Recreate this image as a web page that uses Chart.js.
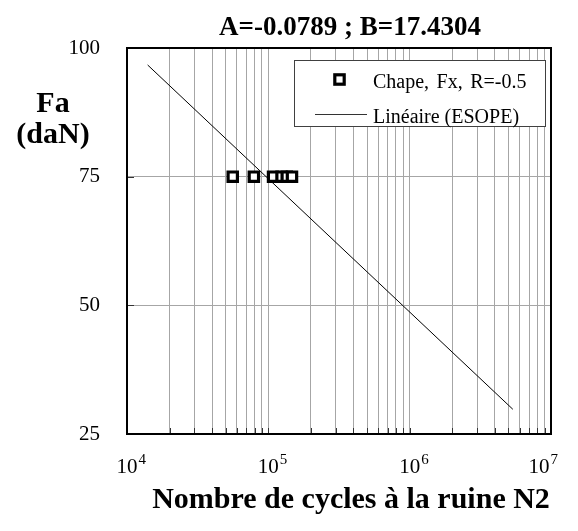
<!DOCTYPE html>
<html>
<head>
<meta charset="utf-8">
<script src="https://cdn.jsdelivr.net/npm/chart.js@4.4.1/dist/chart.umd.min.js"></script>
<style>
  html, body { margin: 0; padding: 0; background: #fff; }
  #wrap { width: 578px; height: 531px; }
</style>
</head>
<body>
<div id="wrap"><canvas id="graficoFatigue" width="578" height="531"></canvas></div>
<script>
// valeurs
const cycles = [56000, 79000, 108000, 124000, 135000, 147000];
const efforts = [75, 75, 75, 75, 75, 75];
const droiteCycles = [14000, 5370000];
const droiteEfforts = [96.7, 29.8];
const decades = [1e4, 1e5, 1e6, 1e7];
const yTicks = [25, 50, 75, 100];
const titre = 'A=-0.0789 ; B=17.4304';
const titreY = ['Fa', '(daN)'];
const titreX = 'Nombre de cycles à la ruine N2';
const serieNom = 'Chape, Fx, R=-0.5';
const droiteNom = 'Linéaire (ESOPE)';

const SERIF = '"Liberation Serif", "Times New Roman", serif';

// lignes de grille : 1..9 x chaque décade
const xGrid = [];
decades.forEach((d, i) => {
  if (i < decades.length - 1) {
    for (let k = 1; k < 10; k++) xGrid.push(d * k);
  } else {
    xGrid.push(d);
  }
});

const habillage = {
  id: 'habillage',
  afterDatasetsDraw(chart) {
    const { ctx, chartArea: a, scales: { x, y } } = chart;
    ctx.save();
    // petits traits intérieurs
    ctx.strokeStyle = '#333';
    ctx.lineWidth = 1;
    ctx.beginPath();
    xGrid.forEach(v => {
      const px = Math.round(x.getPixelForValue(v)) + 0.5;
      ctx.moveTo(px, a.bottom);
      ctx.lineTo(px, a.bottom - 6);
    });
    yTicks.forEach(v => {
      const py = Math.round(y.getPixelForValue(v)) + 0.5;
      ctx.moveTo(a.left, py);
      ctx.lineTo(a.left + 7, py);
    });
    ctx.stroke();
    // cadre
    ctx.strokeStyle = '#000';
    ctx.lineWidth = 2;
    ctx.strokeRect(a.left, a.top, a.right - a.left, a.bottom - a.top);
    ctx.restore();
  },
  afterDraw(chart) {
    const { ctx, scales: { x, y } } = chart;
    ctx.save();
    ctx.fillStyle = '#000';

    // titre
    ctx.font = 'bold 27px ' + SERIF;
    ctx.textAlign = 'center';
    ctx.textBaseline = 'alphabetic';
    ctx.fillText(titre, 350, 35);

    // titre axe Y
    ctx.font = 'bold 30px ' + SERIF;
    ctx.fillText(titreY[0], 53, 112);
    ctx.fillText(titreY[1], 53, 143);

    // titre axe X
    ctx.fillText(titreX, 351, 508);

    // graduations Y
    ctx.font = '21px ' + SERIF;
    ctx.textAlign = 'right';
    ctx.textBaseline = 'middle';
    yTicks.forEach(v => ctx.fillText(String(v), 100, y.getPixelForValue(v)));

    // graduations X : 10 puissance n
    ctx.textAlign = 'left';
    ctx.textBaseline = 'alphabetic';
    decades.forEach(d => {
      const exp = String(Math.round(Math.log10(d)));
      const px = x.getPixelForValue(d);
      ctx.font = '21px ' + SERIF;
      const w = ctx.measureText('10').width;
      ctx.font = '15px ' + SERIF;
      const ws = ctx.measureText(exp).width;
      let left = px - w / 2;
      if (left + w + 1 + ws > 558) left = 558 - w - 1 - ws;
      ctx.font = '21px ' + SERIF;
      ctx.fillText('10', left, 473);
      ctx.font = '15px ' + SERIF;
      ctx.fillText(exp, left + w + 1, 464);
    });

    // légende
    ctx.fillStyle = '#fff';
    ctx.fillRect(294, 60, 252, 67);
    ctx.strokeStyle = '#404040';
    ctx.lineWidth = 1;
    ctx.strokeRect(294.5, 60.5, 251, 66);

    ctx.strokeStyle = '#000';
    ctx.lineWidth = 3.2;
    ctx.strokeRect(339.5 - 4.7, 79.5 - 4.7, 9.4, 9.4);

    ctx.strokeStyle = '#333';
    ctx.lineWidth = 1;
    ctx.beginPath();
    ctx.moveTo(315, 114.5);
    ctx.lineTo(367, 114.5);
    ctx.stroke();

    ctx.fillStyle = '#000';
    ctx.font = '20px ' + SERIF;
    ctx.wordSpacing = '2.5px';
    ctx.fillText(serieNom, 373, 88);
    ctx.wordSpacing = '0px';
    ctx.fillText(droiteNom, 373, 123);
    ctx.restore();
  }
};

const ctx = document.getElementById('graficoFatigue').getContext('2d');

new Chart(ctx, {
  type: 'scatter',
  data: {
    datasets: [
      {
        label: serieNom,
        data: cycles.map((c, i) => ({ x: c, y: efforts[i] })),
        pointStyle: 'rect',
        pointRadius: 6.6,
        pointHoverRadius: 6.6,
        pointBorderWidth: 3.2,
        borderColor: '#000',
        backgroundColor: '#fff'
      },
      {
        label: droiteNom,
        type: 'line',
        data: droiteCycles.map((c, i) => ({ x: c, y: droiteEfforts[i] })),
        borderColor: '#000',
        borderWidth: 1,
        pointRadius: 0,
        showLine: true,
        fill: false
      }
    ]
  },
  options: {
    responsive: false,
    animation: false,
    devicePixelRatio: 1,
    events: [],
    layout: { padding: { left: 127, top: 48, right: 27, bottom: 97 } },
    plugins: {
      legend: { display: false },
      title: { display: false },
      tooltip: { enabled: false }
    },
    scales: {
      x: {
        type: 'logarithmic',
        min: 1e4,
        max: 1e7,
        afterBuildTicks: s => { s.ticks = xGrid.map(v => ({ value: v })); },
        ticks: { display: false },
        grid: { color: '#a6a6a6', drawTicks: false },
        border: { display: false }
      },
      y: {
        min: 25,
        max: 100,
        afterBuildTicks: s => { s.ticks = yTicks.map(v => ({ value: v })); },
        ticks: { display: false },
        grid: { color: '#a6a6a6', drawTicks: false },
        border: { display: false }
      }
    }
  },
  plugins: [habillage]
});
</script>
</body>
</html>
